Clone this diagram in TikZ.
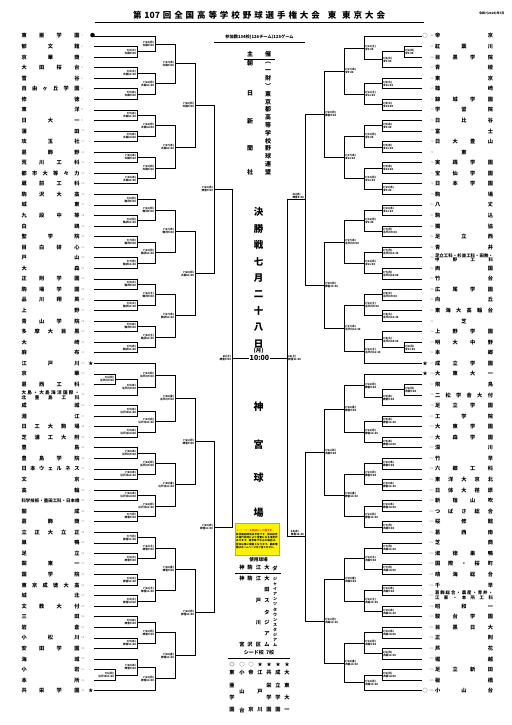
\documentclass[tikz,border=0pt]{standalone}
\usepackage{fontspec}
\setmainfont{Noto Sans CJK JP}
\XeTeXlinebreaklocale "ja"
\XeTeXlinebreakskip=0pt plus 1pt
\usetikzlibrary{calc}
\ExplSyntaxOn
\NewDocumentCommand\spread{m}{\tl_map_inline:nn{#1}{##1\hfill}\unskip}
\NewDocumentCommand\spreadM{m}{\tl_map_inline:Nn #1{##1\hfill}\unskip}
\ExplSyntaxOff
\newcommand\nb[1]{\makebox[58pt][s]{\hspace{0pt plus 1fil}\spreadM#1\hspace{0pt plus 1fil}}}
\definecolor{numc}{RGB}{140,150,185}
\tikzset{
  tn/.style={font=\fontsize{5.2}{5.2}\selectfont\bfseries, inner sep=0pt},
  num/.style={font=\fontsize{2.6}{2.6}\selectfont, text=numc, inner sep=0pt},
  br/.style={line width=0.75pt},
  lb/.style={font=\fontsize{2.7}{3.0}\selectfont\bfseries, inner sep=0.2pt},
  mk/.style={font=\fontsize{5}{5}\selectfont, inner sep=0pt},
  ct/.style={font=\fontsize{6}{6}\selectfont\bfseries, inner sep=0pt},
  big/.style={font=\fontsize{9.5}{9.5}\selectfont\bfseries, inner sep=0pt},
  sm/.style={font=\fontsize{5.2}{5.2}\selectfont\bfseries, inner sep=0pt},
}
\newcommand\GL[5]{%
  \coordinate (X) at (#1,0);
  \draw[br] (#2) -- (X |- #2) -- (X |- #3) -- (#3);
  \coordinate (#4) at ($(X |- #2)!0.5!(X |- #3)$);
  \node[lb, anchor=east, align=right] at ([xshift=-0.6pt]#4) {#5};}
\newcommand\GR[5]{%
  \coordinate (X) at (#1,0);
  \draw[br] (#2) -- (X |- #2) -- (X |- #3) -- (#3);
  \coordinate (#4) at ($(X |- #2)!0.5!(X |- #3)$);
  \node[lb, anchor=west, align=left] at ([xshift=0.6pt]#4) {#5};}
\newcommand\GRo[5]{%
  \coordinate (X) at (#1,0);
  \draw[br] (#2) -- (X |- #2) -- (X |- #3) -- (#3);
  \coordinate (#4) at ($(X |- #2)!0.5!(X |- #3)$);
  \node[lb, anchor=south east, align=left] at ([xshift=-0.8pt,yshift=0.6pt]#4) {#5};}
\begin{document}
\begin{tikzpicture}[x=1pt,y=-1pt]
\useasboundingbox[fill=white] (0,0) rectangle (511,725);
% title
\node (title) at (259,15.5) {\fontsize{8.5}{8.5}\selectfont\bfseries\makebox[252pt][s]{\spread{第{107}回全国高等学校野球選手権大会}\hspace{5pt plus 1fill}東\hspace{3pt plus 1fill}\spread{東京大会}}};
\draw[line width=0.8pt] (95,22) -- (424,22);
\node[font=\fontsize{3}{3}\selectfont\bfseries, anchor=east] (date) at (508,14) {令和7(2025)年7月};
% team coordinates and numbers
\foreach \i in {1,...,63}{
  \coordinate (e\i) at (94,{36+(\i-1)*10.56});
  \node[num, anchor=west] (n\i) at (81.2,{36+(\i-1)*10.56}) {\i};}
\foreach \i in {64,...,126}{
  \coordinate (e\i) at (422,{36+(\i-64)*10.56});
  \node[num, anchor=east] (n\i) at (433.8,{36+(\i-64)*10.56}) {\i};}
% left names
\foreach \i/\n in {1/東亜学園,2/郁文館,3/京華商,4/大田桜台,5/雪谷,6/自由ヶ丘学園,7/修徳,8/東洋,9/日大一,10/蒲田,11/攻玉社,12/葛飾野,13/荒川工科,14/都市大等々力,15/蔵前工科,16/駒沢大高,17/城東,18/九段中等,19/白鴎,20/聖学院,21/目白研心,22/戸山,23/大森,24/正則学園,25/駒場学園,26/品川翔英,27/上野,28/青山学院,29/多摩大目黒,30/大崎,31/麻布,32/江戸川,33/京華,34/葛西工科,36/成城,37/淵江,38/日工大駒場,39/芝浦工大附,40/豊島,41/豊島学院,42/日本ウェルネス,43/文京,44/高輪,46/開成,47/葛飾商,48/立正大立正,49/巣鴨,50/足立,51/関東一,52/国学院,53/東京成徳大高,54/城北,55/文教大付,56/三田,57/岩倉,58/小松川,59/安田学園,60/海城,61/小岩,62/本所,63/共栄学園}{
  \node[tn] (t\i) at (50.5,{36+(\i-1)*10.56}) {\nb\n};}
\node[tn, font=\fontsize{4.6}{4.9}\selectfont\bfseries, align=center] (t35) at (50.5,{36+34*10.56}) {\makebox[58pt][s]{\spread{大島・大島海洋国際・}}\\\makebox[58pt][s]{\spread{北豊島工科}}};
\node[tn, font=\fontsize{4.4}{4.4}\selectfont\bfseries] (t45) at (50.5,{36+44*10.56}) {\makebox[58pt][s]{\spread{科学技術・墨田工科・日本橋}}};
% right names
\foreach \i/\n in {64/帝京,65/紅葉川,66/目黒学院,67/青稜,68/東京,69/篠崎,70/錦城学園,71/学習院,72/日比谷,73/富士,74/日大豊山,75/東,76/実践学園,77/宝仙学園,78/日本学園,79/駒場,80/八丈,81/駒込,82/獨協,83/足立西,84/青井,86/両国,87/竹台,88/広尾学園,89/向丘,90/東海大高輪台,91/芝,92/上野学園,93/明大中野,94/本郷,95/成立学園,96/大東大一,97/飛鳥,98/二松学舎大付,99/足立学園,100/工学院,101/大東学園,102/大森学園,103/深川,104/竹早,105/六郷工科,106/東洋大京北,107/日体大荏原,108/新宿山吹,109/つばさ総合,110/桜修館,111/葛西南,112/芝商,113/淑徳巣鴨,114/国際・桜町,115/晴海総合,116/千早,118/昭和一,119/駿台学園,120/目黒日大,121/正則,122/芦花,123/堀越,124/足立新田,125/板橋,126/小山台}{
  \node[tn] (t\i) at (464,{36+(\i-64)*10.56}) {\nb\n};}
\node[tn, font=\fontsize{4.4}{4.8}\selectfont\bfseries, align=center] (t85) at (464,{36+21*10.56}) {\makebox[58pt][s]{\spread{足立工科・杉並工科・田無・}}\\\makebox[58pt][s]{\spread{中野工科}}};
\node[tn, font=\fontsize{4.4}{4.8}\selectfont\bfseries, align=center] (t117) at (464,{36+53*10.56}) {\makebox[58pt][s]{\spread{葛飾総合・農産・青井・}}\\\makebox[58pt][s]{\spread{江東・本所工科}}};
% markers
\node[mk] (m1) at (92.5,36) {●};
\node[mk] (m32) at (90.8,{36+31*10.56}) {★};
\node[mk] (m63) at (90.8,{36+62*10.56}) {★};
\node[mk] (m64) at (425,36) {○};
\node[mk] (m126) at (425,{36+62*10.56}) {○};
\node[mk] (m95) at (425,{36+31*10.56}) {★};
\node[mk] (m96) at (425,{36+32*10.56}) {★};
% ===== LEFT quarter A =====
\GL{137}{e2}{e3}{a1}{7/8(火)\\大田9:00}
\GL{137}{e4}{e5}{a2}{7/8(火)\\大田11:30}
\GL{137}{e6}{e7}{a3}{7/9(水)\\大田9:00}
\GL{137}{e8}{e9}{a4}{7/9(水)\\大田11:30}
\GL{137}{e10}{e11}{a5}{7/9(水)\\大田14:00}
\GL{137}{e12}{e13}{a6}{7/10(木)\\大田9:00}
\GL{137}{e14}{e15}{a7}{7/10(木)\\大田11:30}
\GL{137}{e16}{e17}{a8}{7/6(日)\\駒沢9:00}
\GL{137}{e18}{e19}{a9}{7/6(日)\\駒沢11:30}
\GL{137}{e20}{e21}{a10}{7/7(月)\\駒沢9:00}
\GL{137}{e22}{e23}{a11}{7/7(月)\\駒沢11:30}
\GL{137}{e24}{e25}{a12}{7/8(火)\\駒沢9:00}
\GL{137}{e26}{e27}{a13}{7/8(火)\\駒沢11:30}
\GL{137}{e28}{e29}{a14}{7/9(水)\\駒沢9:00}
\GL{137}{e30}{e31}{a15}{7/9(水)\\駒沢11:30}
\GL{155}{e1}{a1}{b1}{7/14(月)\\大田9:00}
\GL{155}{a2}{a3}{b2}{7/14(月)\\大田11:30}
\GL{155}{a4}{a5}{b3}{7/14(月)\\大田14:00}
\GL{155}{a6}{a7}{b4}{7/13(日)\\大田9:00}
\GL{155}{a8}{a9}{b5}{7/13(日)\\駒沢9:00}
\GL{155}{a10}{a11}{b6}{7/13(日)\\駒沢11:30}
\GL{155}{a12}{a13}{b7}{7/12(土)\\駒沢9:00}
\GL{155}{a14}{a15}{b8}{7/12(土)\\駒沢11:30}
\GL{175}{b1}{b2}{c1}{7/17(木)\\大田9:00}
\GL{175}{b3}{b4}{c2}{7/17(木)\\大田11:30}
\GL{175}{b5}{b6}{c3}{7/17(木)\\駒沢9:00}
\GL{175}{b7}{b8}{c4}{7/17(木)\\駒沢11:30}
\GL{195}{c1}{c2}{d1}{7/20(日)\\大田9:00}
\GL{195}{c3}{c4}{d2}{7/20(日)\\大田11:30}
\GL{214}{d1}{d2}{qA}{7/23(水)\\神宮9:00}
% ===== LEFT quarter B =====
\GL{115}{e33}{e34}{p1}{7/6(日)\\江戸川9:00}
\GL{115}{e61}{e62}{p2}{7/6(日)\\江戸川11:30}
\GL{137}{p1}{e35}{a16}{7/9(水)\\江戸川9:00}
\GL{137}{e36}{e37}{a17}{7/9(水)\\江戸川11:30}
\GL{137}{e38}{e39}{a18}{7/9(水)\\江戸川14:00}
\GL{137}{e40}{e41}{a19}{7/10(木)\\江戸川9:00}
\GL{137}{e42}{e43}{a20}{7/10(木)\\江戸川11:30}
\GL{137}{e44}{e45}{a21}{7/10(木)\\江戸川14:00}
\GL{137}{e46}{e47}{a22}{7/7(月)\\神宮9:00}
\GL{137}{e48}{e49}{a23}{7/7(月)\\神宮11:30}
\GL{137}{e50}{e51}{a24}{7/8(火)\\神宮9:00}
\GL{137}{e52}{e53}{a25}{7/8(火)\\神宮11:30}
\GL{137}{e54}{e55}{a26}{7/8(火)\\神宮14:00}
\GL{137}{e56}{e57}{a27}{7/9(水)\\神宮9:00}
\GL{137}{e58}{e59}{a28}{7/9(水)\\神宮11:30}
\GL{137}{e60}{p2}{a29}{7/10(木)\\神宮9:00}
\GL{155}{e32}{a16}{b9}{7/13(日)\\江戸川9:00}
\GL{155}{a17}{a18}{b10}{7/13(日)\\江戸川11:30}
\GL{155}{a19}{a20}{b11}{7/14(月)\\江戸川9:00}
\GL{155}{a21}{a22}{b12}{7/14(月)\\江戸川11:30}
\GL{155}{a23}{a24}{b13}{7/12(土)\\神宮9:00}
\GL{155}{a25}{a26}{b14}{7/12(土)\\神宮11:30}
\GL{155}{a27}{a28}{b15}{7/13(日)\\神宮9:00}
\GL{155}{a29}{e63}{b16}{7/13(日)\\神宮11:30}
\GL{175}{b9}{b10}{c5}{7/18(金)\\江戸川9:00}
\GL{175}{b11}{b12}{c6}{7/18(金)\\江戸川11:30}
\GL{175}{b13}{b14}{c7}{7/18(金)\\神宮9:00}
\GL{175}{b15}{b16}{c8}{7/18(金)\\神宮11:30}
\GL{195}{c5}{c6}{d3}{7/21(月)\\神宮9:00}
\GL{195}{c7}{c8}{d4}{7/21(月)\\神宮11:30}
\GL{214}{d3}{d4}{qB}{7/23(水)\\神宮11:30}
\GL{232}{qA}{qB}{sL}{26(土)\\神宮9:00}
% ===== RIGHT quarter C =====
\GR{404}{e65}{e66}{rp1}{7/6(日)\\ダ9:00}
\GR{404}{e93}{e94}{rp2}{7/6(日)\\ダ11:30}
\GR{382}{rp1}{e67}{ra1}{7/8(火)\\ダ9:00}
\GR{382}{e68}{e69}{ra2}{7/8(火)\\ダ11:30}
\GR{382}{e70}{e71}{ra3}{7/8(火)\\ダ14:00}
\GR{382}{e72}{e73}{ra4}{7/9(水)\\ダ9:00}
\GR{382}{e74}{e75}{ra5}{7/9(水)\\ダ11:30}
\GR{382}{e76}{e77}{ra6}{7/9(水)\\ダ14:00}
\GR{382}{e78}{e79}{ra7}{7/10(木)\\ダ9:00}
\GR{382}{e80}{e81}{ra8}{7/10(木)\\ダ11:30}
\GR{382}{e82}{e83}{ra9}{7/7(月)\\江戸川9:00}
\GR{382}{e84}{e85}{ra10}{7/7(月)\\江戸川11:30}
\GR{382}{e86}{e87}{ra11}{7/7(月)\\江戸川14:00}
\GR{382}{e88}{e89}{ra12}{7/8(火)\\江戸川9:00}
\GR{382}{e90}{e91}{ra13}{7/8(火)\\江戸川11:30}
\GR{382}{e92}{rp2}{ra14}{7/8(火)\\江戸川14:00}
\GR{364}{e64}{ra1}{rb1}{7/12(土)\\ダ9:00}
\GR{364}{ra2}{ra3}{rb2}{7/12(土)\\ダ11:30}
\GR{364}{ra4}{ra5}{rb3}{7/13(日)\\ダ9:00}
\GR{364}{ra6}{ra7}{rb4}{7/13(日)\\ダ11:30}
\GR{364}{ra8}{ra9}{rb5}{7/14(月)\\ダ9:00}
\GR{364}{ra10}{ra11}{rb6}{7/14(月)\\ダ11:30}
\GR{364}{ra12}{ra13}{rb7}{7/12(土)\\江戸川9:00}
\GR{364}{ra14}{e95}{rb8}{7/12(土)\\江戸川11:30}
\GR{344}{rb1}{rb2}{rc1}{7/17(木)\\ダ9:00}
\GR{344}{rb3}{rb4}{rc2}{7/17(木)\\ダ11:30}
\GR{344}{rb5}{rb6}{rc3}{7/17(木)\\江戸川9:00}
\GR{344}{rb7}{rb8}{rc4}{7/17(木)\\江戸川11:30}
\GR{324}{rc1}{rc2}{rd1}{7/20(日)\\神宮9:00}
\GR{324}{rc3}{rc4}{rd2}{7/20(日)\\神宮11:30}
\GRo{305}{rd1}{rd2}{rqC}{24(木)\\神宮9:00}
% ===== RIGHT quarter D =====
\GR{404}{e97}{e98}{rp3}{7/6(日)\\大田9:00}
\GR{382}{rp3}{e99}{ra15}{7/9(水)\\神宮9:00}
\GR{382}{e100}{e101}{ra16}{7/9(水)\\神宮11:30}
\GR{382}{e102}{e103}{ra17}{7/9(水)\\神宮14:00}
\GR{382}{e104}{e105}{ra18}{7/10(木)\\神宮9:00}
\GR{382}{e106}{e107}{ra19}{7/10(木)\\神宮11:30}
\GR{382}{e108}{e109}{ra20}{7/10(木)\\神宮14:00}
\GR{382}{e110}{e111}{ra21}{7/7(月)\\大田9:00}
\GR{382}{e112}{e113}{ra22}{7/7(月)\\大田11:30}
\GR{382}{e114}{e115}{ra23}{7/7(月)\\大田14:00}
\GR{382}{e116}{e117}{ra24}{7/10(木)\\大田9:00}
\GR{382}{e118}{e119}{ra25}{7/10(木)\\大田11:30}
\GR{382}{e120}{e121}{ra26}{7/10(木)\\大田14:00}
\GR{382}{e122}{e123}{ra27}{7/6(日)\\大田11:30}
\GR{382}{e124}{e125}{ra28}{7/6(日)\\大田14:00}
\GR{364}{e96}{ra15}{rb9}{7/14(月)\\神宮9:00}
\GR{364}{ra16}{ra17}{rb10}{7/14(月)\\神宮11:30}
\GR{364}{ra18}{ra19}{rb11}{7/13(日)\\神宮9:00}
\GR{364}{ra20}{ra21}{rb12}{7/13(日)\\神宮11:30}
\GR{364}{ra22}{ra23}{rb13}{7/12(土)\\大田9:00}
\GR{364}{ra24}{ra25}{rb14}{7/12(土)\\大田11:30}
\GR{364}{ra26}{ra27}{rb15}{7/14(月)\\大田9:00}
\GR{364}{ra28}{e126}{rb16}{7/14(月)\\大田11:30}
\GR{344}{rb9}{rb10}{rc5}{7/18(金)\\神宮9:00}
\GR{344}{rb11}{rb12}{rc6}{7/18(金)\\神宮11:30}
\GR{344}{rb13}{rb14}{rc7}{7/18(金)\\大田9:00}
\GR{344}{rb15}{rb16}{rc8}{7/18(金)\\大田11:30}
\GR{324}{rc5}{rc6}{rd3}{7/21(月)\\大田9:00}
\GR{324}{rc7}{rc8}{rd4}{7/21(月)\\大田11:30}
\GRo{305}{rd3}{rd4}{rqD}{24(木)\\神宮11:30}
\GR{287}{rqC}{rqD}{sR}{}
% final
\draw[br] (sL) -- (sL -| sR);
\node[lb, anchor=west, align=left] (sRl) at ([xshift=0.8pt]sL -| sR) {26(土)\\神宮11:30};
\node[font=\fontsize{7}{7}\selectfont\bfseries, fill=white, inner sep=0.6pt] (ft) at (259.5,358.25) {10:00};
% centre header
\node[font=\fontsize{4.2}{4.2}\selectfont\bfseries] (sanka) at (259.5,37.5) {参加数134校(126チーム)125ゲーム};
\draw[line width=0.6pt] (214,42.5) -- (305,42.5);
\node[ct] (shu) at (250,54) {主};
\node[ct] (sai) at (268,54) {催};
\draw[line width=0.6pt] (244,59) -- (275,59);
\foreach \c/\y in {朝/63,日/93,新/121,聞/148,社/172} \node[ct] at (250,\y) {\c};
\foreach \c [count=\k from 0] in {︵,一,財,︶,東,京,都,高,等,学,校,野,球,連,盟} \node[ct] at (268,{63+\k*7.79}) {\c};
\foreach \c [count=\k from 0] in {決,勝,戦,七,月,二,十,八,日} \node[big] at (258.5,{212+\k*16.5}) {\c};
\node[font=\fontsize{5.5}{5.5}\selectfont\bfseries] at (258.5,350.5) {(月)};
\foreach \c/\y in {神/407,宮/445,球/478,場/513} \node[big, font=\fontsize{10}{10}\selectfont\bfseries] at (258.5,\y) {\c};
% yellow note
\node[fill=yellow, draw=black!35, line width=0.4pt, anchor=north west, inner sep=1pt, align=left, font=\fontsize{2.5}{3.3}\selectfont\bfseries, text width=42pt, minimum height=32pt] (note) at (235,523) {\textcolor{red}{※ ○・◎・★印はシード校です。}\\試合開始時刻は予定です。前の試合の進行状況により変更になる場合があります。雨天等で中止の場合は、翌日以降に順延となります。最新情報はホームページをご覧ください。};
% venues
\node[font=\fontsize{4.6}{4.6}\selectfont\bfseries] (venue) at (258.5,560) {使用球場};
\foreach \c/\x in {神/242,駒/250,江/258.5,大/267,ダ/275} \node[sm] at (\x,568) {\c};
\draw[line width=0.6pt] (235,573) -- (281,573);
\node[sm] at (242,579) {神}; \node[sm] at (242,645) {宮};
\node[sm] at (250,579) {駒}; \node[sm] at (250,645) {沢};
\foreach \c [count=\k from 0] in {江,戸,川,区} \node[sm] at (258.5,{579+\k*22}) {\c};
\foreach \c [count=\k from 0] in {大,田,ス,タ,ジ,ア,ム} \node[sm] at (267,{579+\k*11}) {\c};
\foreach \c [count=\k from 0] in {ジ,ャ,イ,ア,ン,ツ,タ,ウ,ン,ス,タ,ジ,ア,ム} \node[font=\fontsize{4}{4}\selectfont\bfseries, inner sep=0pt] at (275,{579+\k*5.1}) {\c};
% seeds
\node[font=\fontsize{5}{5}\selectfont\bfseries] (seed) at (259,653) {シード校\ \ 7校};
\draw[line width=0.6pt] (228,658.5) -- (290,658.5);
\foreach \c/\x in {◎/232,○/242,○/251,★/260,★/269,★/278,★/287} \node[mk] at (\x,664.5) {\c};
\foreach \c [count=\k from 0] in {東,亜,学,園} \node[sm] at (232,{673+\k*12.3}) {\c};
\foreach \c [count=\k from 0] in {小,山,台} \node[sm] at (242,{673+\k*18.5}) {\c};
\foreach \c [count=\k from 0] in {帝,京} \node[sm] at (251,{673+\k*37}) {\c};
\foreach \c [count=\k from 0] in {江,戸,川} \node[sm] at (260,{673+\k*18.5}) {\c};
\foreach \c [count=\k from 0] in {共,栄,学,園} \node[sm] at (269,{673+\k*12.3}) {\c};
\foreach \c [count=\k from 0] in {成,立,学,園} \node[sm] at (278,{673+\k*12.3}) {\c};
\foreach \c [count=\k from 0] in {大,東,大,一} \node[sm] at (287,{673+\k*12.3}) {\c};
\end{tikzpicture}
\end{document}
